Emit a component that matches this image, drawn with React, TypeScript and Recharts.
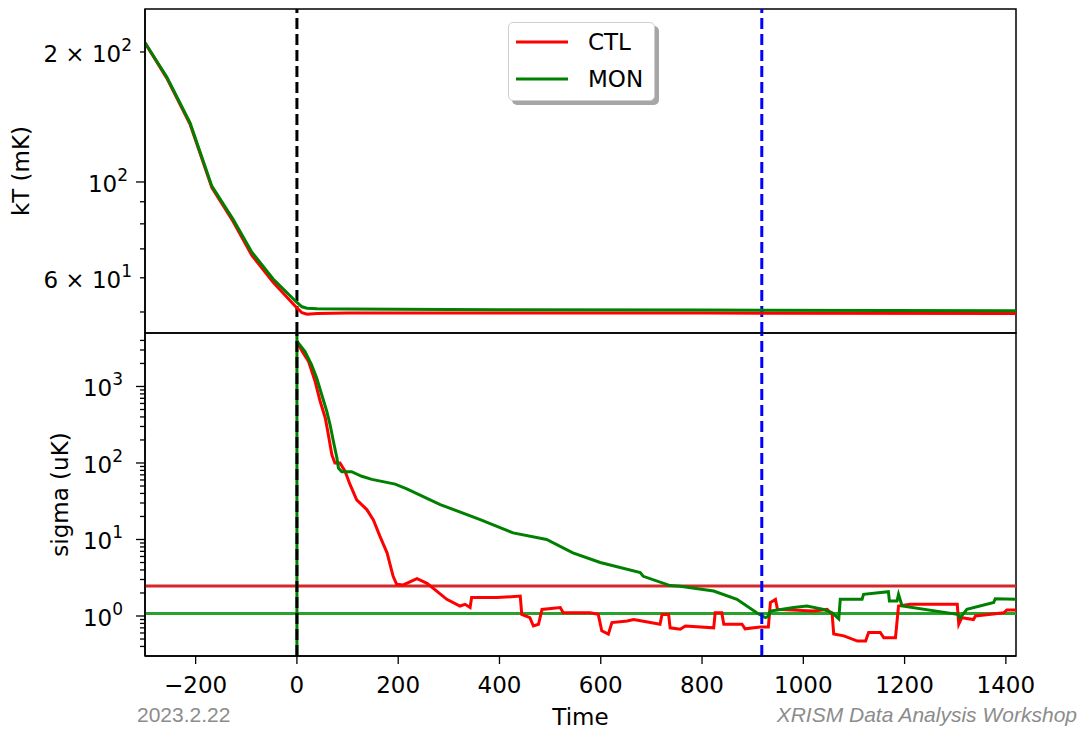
import React from 'react';
import { LineChart, Line, XAxis, YAxis, ReferenceLine, ReferenceArea, Legend } from 'recharts';

const FONT = '"DejaVu Sans", Verdana, sans-serif';
const FOOT_FONT = '"Liberation Sans", Arial, sans-serif';

// ---------- shared x axis ----------
const xDomain: [number, number] = [-300, 1420];
const xTicks = [-200, 0, 200, 400, 600, 800, 1000, 1200, 1400];

// ---------- top panel: kT (mK) ----------
const kTTime = [-300, -257, -211, -168, -126, -89, -47, 0, 10, 20, 40, 100, 400, 800, 1420];
const kTCtl = [210, 174, 136, 97, 81, 67.6, 58.6, 51.1, 49.8, 49.4, 49.6, 49.7, 49.7, 49.7, 49.6];
const kTMon = [210, 175, 137, 97.8, 82, 68.8, 59.6, 52.6, 51.4, 51.0, 50.9, 50.8, 50.6, 50.5, 50.3];
const kTDomain: [number, number] = [44.7, 251.5];
const kTTicks = [50, 60, 70, 80, 90, 100, 200];
const kTMajor = [100];
const kTLabels: Record<number, [string, string]> = {
  200: ['2 \u00d7 10', '2'],
  100: ['10', '2'],
  60: ['6 \u00d7 10', '1'],
};

// ---------- bottom panel: sigma (uK) ----------
const sigmaCtlTime = [0, 10, 23, 36, 46, 56, 62, 69, 75, 85, 95, 105, 118, 138, 151, 164, 178, 190, 197, 210, 237, 257, 296, 322, 332, 342, 345, 395, 441, 444, 460, 467, 477, 484, 520, 526, 579, 595, 602, 615, 622, 652, 665, 698, 717, 721, 734, 737, 757, 767, 823, 826, 839, 843, 879, 885, 915, 931, 935, 945, 949, 1020, 1047, 1057, 1060, 1080, 1107, 1123, 1129, 1152, 1159, 1182, 1188, 1211, 1304, 1307, 1313, 1336, 1340, 1396, 1402, 1420];
const sigmaCtl = [3900, 2900, 2120, 1160, 635, 388, 235, 128, 100, 100, 78, 52, 33, 24.6, 18, 11, 6.7, 3.3, 2.6, 2.55, 3.07, 2.67, 1.65, 1.35, 1.42, 1.29, 1.74, 1.74, 1.82, 1.05, 0.95, 0.74, 0.78, 1.22, 1.29, 1.1, 1.1, 1.05, 0.64, 0.58, 0.82, 0.86, 0.9, 0.82, 0.78, 1.05, 1.05, 0.7, 0.67, 0.74, 0.7, 1.1, 1.1, 0.78, 0.78, 0.68, 0.72, 0.72, 1.5, 1.65, 1.22, 1.16, 1.22, 1.05, 0.58, 0.55, 0.47, 0.47, 0.61, 0.61, 0.52, 0.52, 1.35, 1.42, 1.42, 0.78, 0.95, 0.9, 1.0, 1.1, 1.2, 1.2];
const sigmaMonTime = [0, 3, 16, 29, 39, 49, 59, 65.5, 72, 79, 82, 88.6, 108, 128, 148, 194, 217, 283, 362, 427, 493, 545, 599, 678, 684, 737, 757, 823, 869, 908, 925, 930, 935, 981, 1007, 1040, 1057, 1070, 1073, 1116, 1119, 1168, 1170, 1185, 1188, 1195, 1304, 1310, 1323, 1376, 1379, 1420];
const sigmaMon = [3900, 3680, 2860, 1920, 1290, 780, 472, 316, 192, 116, 86, 77, 77, 67, 61, 53, 46, 28.6, 18.2, 12.2, 10, 6.7, 5.0, 3.7, 3.3, 2.5, 2.45, 2.12, 1.65, 1.1, 0.95, 0.98, 1.16, 1.29, 1.35, 1.22, 1.1, 0.92, 1.65, 1.65, 1.92, 2.08, 1.57, 1.57, 1.92, 1.35, 1.05, 0.95, 1.22, 1.5, 1.68, 1.65];
const sigmaDomain: [number, number] = [0.3, 5000];
const sigmaTicks = [0.4, 0.5, 0.6, 0.7, 0.8, 0.9, 1, 2, 3, 4, 5, 6, 7, 8, 9, 10, 20, 30, 40, 50, 60, 70, 80, 90, 100, 200, 300, 400, 500, 600, 700, 800, 900, 1000, 2000, 3000, 4000];
const sigmaMajor = [1, 10, 100, 1000];
const sigmaLabels: Record<number, [string, string]> = {
  1: ['10', '0'],
  10: ['10', '1'],
  100: ['10', '2'],
  1000: ['10', '3'],
};

const ctlThreshold = 2.46;
const monThreshold = 1.08;
const startTime = 0;
const markerTime = 918;

const seriesNames = ['CTL', 'MON'];
const seriesColors = ['#ff0000', '#008000'];
const thresholdColors = ['#d62728', '#2ca02c'];

const toPoints = (xs: number[], ys: number[]) => xs.map((x, i) => ({ x, y: ys[i] }));
const kTCtlData = toPoints(kTTime, kTCtl);
const kTMonData = toPoints(kTTime, kTMon);
const sigmaCtlData = toPoints(sigmaCtlTime, sigmaCtl);
const sigmaMonData = toPoints(sigmaMonTime, sigmaMon);

// ---------- custom ticks / labels ----------
const makeYTick = (labels: Record<number, [string, string]>, majors: number[], gap: number) => (props: any) => {
  const { x, y, payload } = props;
  const v = payload.value;
  const len = majors.includes(v) ? 9 : 5;
  const lab = labels[v];
  return (
    <g>
      <line x1={x - len} x2={x} y1={y} y2={y} stroke="#000" strokeWidth={1.3} />
      {lab && (
        <text x={x - len - gap} y={y + 10} textAnchor="end" fontFamily={FONT} fontSize={23} fill="#000">
          {lab[0]}
          <tspan dy={-11} fontSize={17}>{lab[1]}</tspan>
        </text>
      )}
    </g>
  );
};

const XTick = (props: any) => {
  const { x, y, payload } = props;
  const v = payload.value;
  const label = v < 0 ? `\u2212${Math.abs(v)}` : `${v}`;
  return (
    <g>
      <line x1={x} x2={x} y1={y} y2={y + 8} stroke="#000" strokeWidth={1.3} />
      <text x={x} y={y + 37} textAnchor="middle" fontFamily={FONT} fontSize={23} fill="#000">{label}</text>
    </g>
  );
};

const YLabel = (props: any) => {
  const { viewBox, text, dx } = props;
  const cx = viewBox.x + dx;
  const cy = viewBox.y + viewBox.height / 2;
  return (
    <text x={cx} y={cy} transform={`rotate(-90 ${cx} ${cy})`} textAnchor="middle" dominantBaseline="central" fontFamily={FONT} fontSize={23} fill="#000">
      {text}
    </text>
  );
};

const XLabel = (props: any) => {
  const { viewBox } = props;
  const by = viewBox.y;
  return (
    <g>
      <text x={viewBox.x + viewBox.width / 2} y={by + 69} textAnchor="middle" fontFamily={FONT} fontSize={23} fill="#000">Time</text>
      <text x={137} y={by + 66} textAnchor="start" fontFamily={FOOT_FONT} fontSize={21} fill="#8c8c8c">2023.2.22</text>
      <text x={1077} y={by + 66} textAnchor="end" fontFamily={FOOT_FONT} fontSize={21} fontStyle="italic" fill="#8c8c8c">XRISM Data Analysis Workshop</text>
    </g>
  );
};

const LegendBox = (props: any) => {
  const payload = props.payload || [];
  return (
    <div style={{ position: 'relative', width: 147, height: 79, boxSizing: 'border-box', border: '1.3px solid #cfcfcf', borderRadius: 5, background: '#fff', boxShadow: '4px 4px 0 #a6a6a6', fontFamily: FONT, fontSize: 23 }}>
      {payload.map((p: any, i: number) => (
        <div key={i} style={{ position: 'absolute', left: 7, top: 19 + i * 37 - 14, height: 28, display: 'flex', alignItems: 'center' }}>
          <svg width={52} height={28} style={{ display: 'block' }}>
            <line x1={0} x2={52} y1={14} y2={14} stroke={p.color} strokeWidth={3} />
          </svg>
          <span style={{ marginLeft: 20, color: '#000', lineHeight: '28px' }}>{p.value}</span>
        </div>
      ))}
    </div>
  );
};

const frameAxis = { stroke: '#000', strokeWidth: 1.5 };

export default function App() {
  return (
    <div style={{ position: 'absolute', left: 0, top: 0, width: 1081, height: 729, background: '#fff', overflow: 'hidden' }}>
      {/* top panel */}
      <div style={{ position: 'absolute', left: 0, top: 0 }}>
        <LineChart width={1081} height={345} margin={{ top: 9, right: 65, left: 0, bottom: 12 }}>
          <XAxis type="number" dataKey="x" domain={xDomain} allowDataOverflow ticks={xTicks} hide />
          <YAxis
            type="number"
            scale="log"
            domain={kTDomain}
            allowDataOverflow
            ticks={kTTicks}
            interval={0}
            width={145}
            tickSize={0}
            tickMargin={0}
            tickLine={false}
            axisLine={frameAxis}
            tick={makeYTick(kTLabels, kTMajor, 8)}
            label={<YLabel text="kT (mK)" dx={21} />}
          />
          <ReferenceLine x={startTime} stroke="#000" strokeWidth={3} strokeDasharray="11 5" />
          <ReferenceLine x={markerTime} stroke="#0000ff" strokeWidth={3} strokeDasharray="11 5" />
          <Line data={kTCtlData} dataKey="y" name={seriesNames[0]} type="linear" stroke={seriesColors[0]} strokeWidth={3} dot={false} isAnimationActive={false} />
          <Line data={kTMonData} dataKey="y" name={seriesNames[1]} type="linear" stroke={seriesColors[1]} strokeWidth={3} dot={false} isAnimationActive={false} />
          <ReferenceArea x1={xDomain[0]} x2={xDomain[1]} y1={kTDomain[0]} y2={kTDomain[1]} fill="none" fillOpacity={0} stroke="#000" strokeWidth={1.5} />
          <Legend layout="horizontal" align="center" verticalAlign="middle" content={<LegendBox />} wrapperStyle={{ position: 'absolute', left: 508, top: 22, width: 160, height: 90 }} />
        </LineChart>
      </div>
      {/* bottom panel */}
      <div style={{ position: 'absolute', left: 0, top: 320 }}>
        <LineChart width={1081} height={409} margin={{ top: 13, right: 65, left: 0, bottom: 0 }}>
          <XAxis
            type="number"
            dataKey="x"
            domain={xDomain}
            allowDataOverflow
            ticks={xTicks}
            interval={0}
            height={73}
            tickSize={0}
            tickMargin={0}
            tickLine={false}
            axisLine={frameAxis}
            tick={<XTick />}
            label={<XLabel />}
          />
          <YAxis
            type="number"
            scale="log"
            domain={sigmaDomain}
            allowDataOverflow
            ticks={sigmaTicks}
            interval={0}
            width={145}
            tickSize={0}
            tickMargin={0}
            tickLine={false}
            axisLine={frameAxis}
            tick={makeYTick(sigmaLabels, sigmaMajor, 13)}
            label={<YLabel text="sigma (uK)" dx={60} />}
          />
          <ReferenceLine y={ctlThreshold} stroke={thresholdColors[0]} strokeWidth={3} />
          <ReferenceLine y={monThreshold} stroke={thresholdColors[1]} strokeWidth={3} />
          <ReferenceLine x={startTime} stroke={seriesColors[1]} strokeWidth={3} />
          <Line data={sigmaCtlData} dataKey="y" name={seriesNames[0]} type="linear" stroke={seriesColors[0]} strokeWidth={3} dot={false} isAnimationActive={false} />
          <Line data={sigmaMonData} dataKey="y" name={seriesNames[1]} type="linear" stroke={seriesColors[1]} strokeWidth={3} dot={false} isAnimationActive={false} />
          <ReferenceLine x={startTime} stroke="#000" strokeWidth={3} strokeDasharray="11 5" />
          <ReferenceLine x={markerTime} stroke="#0000ff" strokeWidth={3} strokeDasharray="11 5" />
          <ReferenceArea x1={xDomain[0]} x2={xDomain[1]} y1={sigmaDomain[0]} y2={sigmaDomain[1]} fill="none" fillOpacity={0} stroke="#000" strokeWidth={1.5} />
        </LineChart>
      </div>
    </div>
  );
}
